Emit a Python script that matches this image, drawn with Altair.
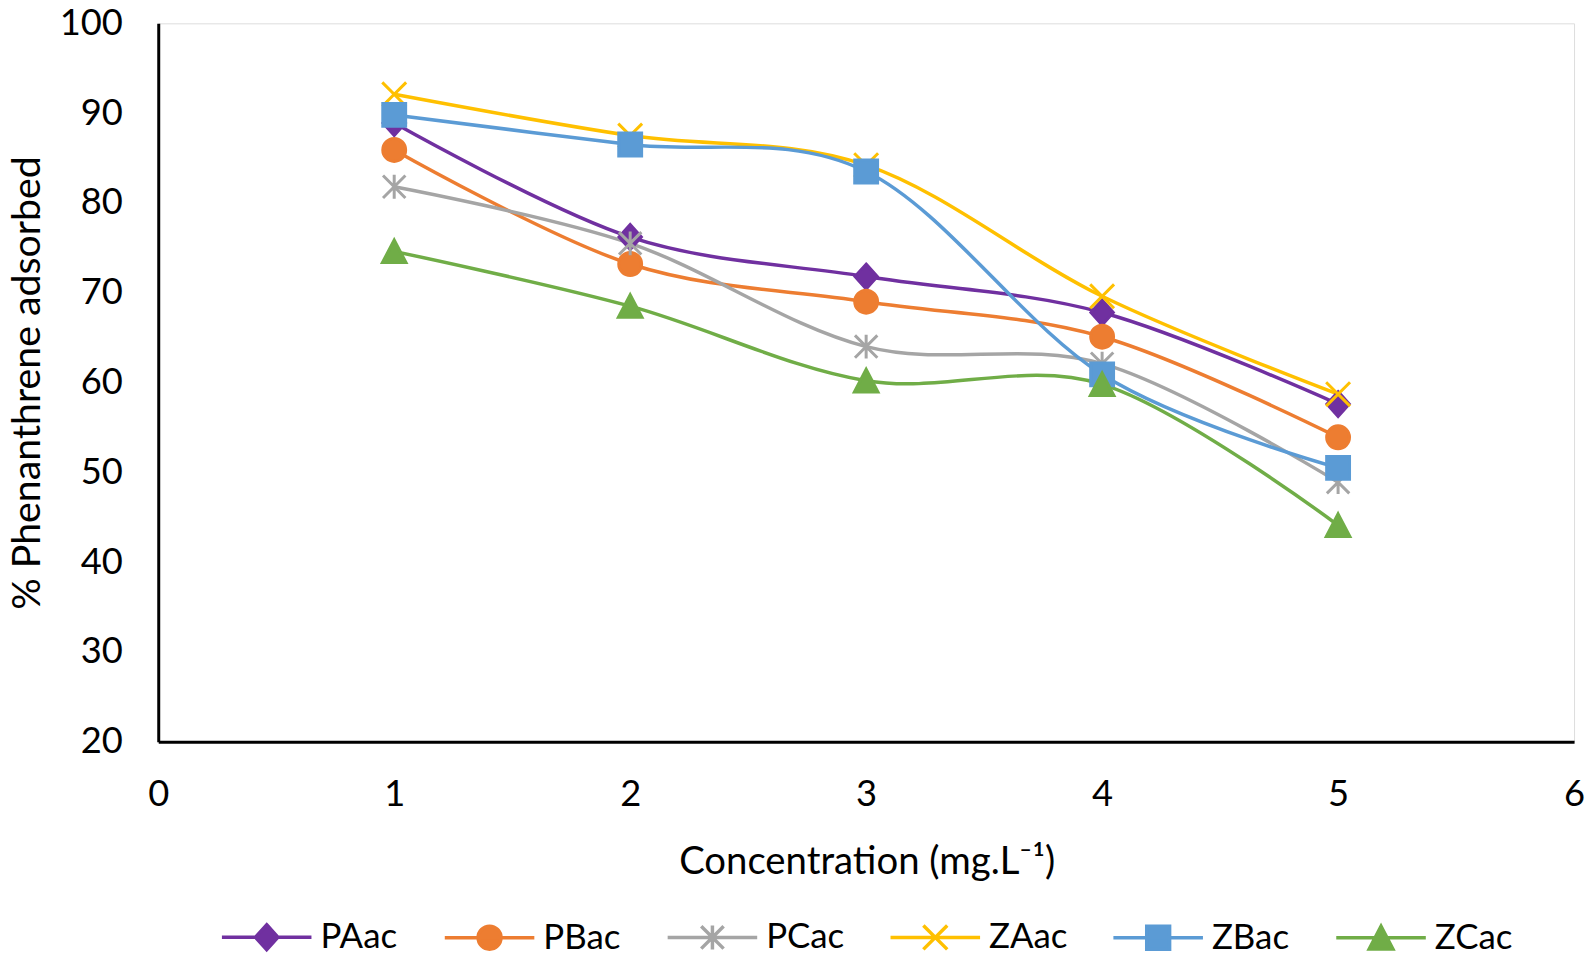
import altair as alt
import pandas as pd

# ---- data ----
series_names = ["PAac", "PBac", "PCac", "ZAac", "ZBac", "ZCac"]
concentration = [1, 2, 3, 4, 5]
paac = [88.9, 76.2, 71.8, 67.8, 57.6]
pbac = [85.9, 73.2, 69.0, 65.1, 53.9]
pcac = [81.8, 75.5, 64.0, 62.1, 48.9]
zaac = [92.1, 87.5, 84.2, 69.6, 58.7]
zbac = [89.8, 86.5, 83.5, 60.9, 50.5]
zcac = [74.6, 68.5, 60.2, 59.8, 44.1]
x_ticks = [0, 1, 2, 3, 4, 5, 6]
y_ticks = [20, 30, 40, 50, 60, 70, 80, 90, 100]

colors = ["#7030A0", "#ED7D31", "#A5A5A5", "#FFC000", "#5B9BD5", "#70AD47"]

# marker shapes (unit paths): diamond, circle, asterisk, x, square, triangle
marker_paths = [
    "M0,-1L0.9,0L0,1L-0.9,0Z",
    "M-0.92,0A0.92,0.92,0,1,0,0.92,0A0.92,0.92,0,1,0,-0.92,0Z",
    "M0,-0.96L0,0.96M-0.9,-0.9L0.9,0.9M-0.9,0.9L0.9,-0.9",
    "M-0.96,-0.96L0.96,0.96M-0.96,0.96L0.96,-0.96",
    "M-0.92,-0.92L0.92,-0.92L0.92,0.92L-0.92,0.92Z",
    "M0,-0.92L0.95,0.9L-0.95,0.9Z",
]
legend_paths = [p + "M-3.6,0L3.6,0" for p in marker_paths]

rows = []
for name, vals in zip(series_names, [paac, pbac, pcac, zaac, zbac, zcac]):
    for c, v in zip(concentration, vals):
        rows.append({"series": name, "conc": c, "pct": v})
df = pd.DataFrame(rows)

FONT = "Lato"

x_enc = alt.X(
    "conc:Q",
    scale=alt.Scale(domain=[0, 6], nice=False, zero=False),
    axis=alt.Axis(
        values=x_ticks, format="d", title="Concentration (mg.L⁻¹)",
        grid=False, ticks=False, tickSize=0, labelFlush=False,
        domainColor="black", domainWidth=3,
        labelPadding=35, labelFontSize=36.5, labelFont=FONT, labelColor="black",
        titleFontSize=38.5, titleFont=FONT, titleFontWeight="normal", titleColor="black",
        titleX=712, titleY=120, titleBaseline="middle", titleAlign="center",
    ),
)
y_enc = alt.Y(
    "pct:Q",
    scale=alt.Scale(domain=[20, 100], nice=False, zero=False),
    axis=alt.Axis(
        values=y_ticks, title="% Phenanthrene adsorbed",
        grid=False, ticks=False, tickSize=0, labelFlush=False,
        domainColor="black", domainWidth=3,
        labelPadding=36, labelFontSize=36.5, labelFont=FONT, labelColor="black",
        titleFontSize=39.5, titleFont=FONT, titleFontWeight="normal", titleColor="black",
        titleX=-131, titleY=361, titleBaseline="middle", titleAlign="center", titleAngle=-90,
    ),
)

fill_scale = alt.Scale(domain=series_names, range=colors)
stroke_scale = alt.Scale(domain=series_names, range=colors)

lines = alt.Chart(df).mark_line(
    interpolate="cardinal", strokeWidth=3.5, strokeCap="round", strokeJoin="round"
).encode(
    x=x_enc, y=y_enc,
    stroke=alt.Stroke("series:N", scale=stroke_scale, legend=None),
    order="conc:Q",
)

points = alt.Chart(df).mark_point(filled=True, size=625, strokeWidth=3, opacity=1).encode(
    x=x_enc, y=y_enc,
    fill=alt.Fill("series:N", scale=fill_scale, legend=None),
    stroke=alt.Stroke("series:N", scale=stroke_scale, legend=None),
    shape=alt.Shape("series:N", scale=alt.Scale(domain=series_names, range=marker_paths), legend=None),
)

leg = alt.Legend(
    title=None, orient="none", legendX=58, legendY=901,
    direction="horizontal", columns=6, gridAlign="all",
    symbolSize=625, symbolOffset=33.5, labelOffset=36.5,
    symbolStrokeWidth=3.5, symbolOpacity=1,
    labelFontSize=35, labelFont=FONT, labelColor="black", labelLimit=0,
    columnPadding=39, padding=0,
)

legend_layer = alt.Chart(df).transform_filter("datum.pct < 0").mark_point(
    filled=True, size=625, strokeWidth=3.5, opacity=1
).encode(
    x=x_enc, y=y_enc,
    fill=alt.Fill("series:N", scale=fill_scale, legend=leg),
    stroke=alt.Stroke("series:N", scale=stroke_scale, legend=leg),
    shape=alt.Shape("series:N", scale=alt.Scale(domain=series_names, range=legend_paths), legend=leg),
)

chart = alt.layer(lines, points, legend_layer).resolve_scale(
    fill="independent", stroke="independent", shape="independent"
).properties(
    width=1423, height=722,
    padding={"left": 151, "top": 13, "right": 12, "bottom": 215},
    autosize=alt.AutoSizeParams(type="none"),
).configure_view(stroke=None).configure(font=FONT)

chart.save("out.html", embed_options={"renderer": "svg", "actions": False})
